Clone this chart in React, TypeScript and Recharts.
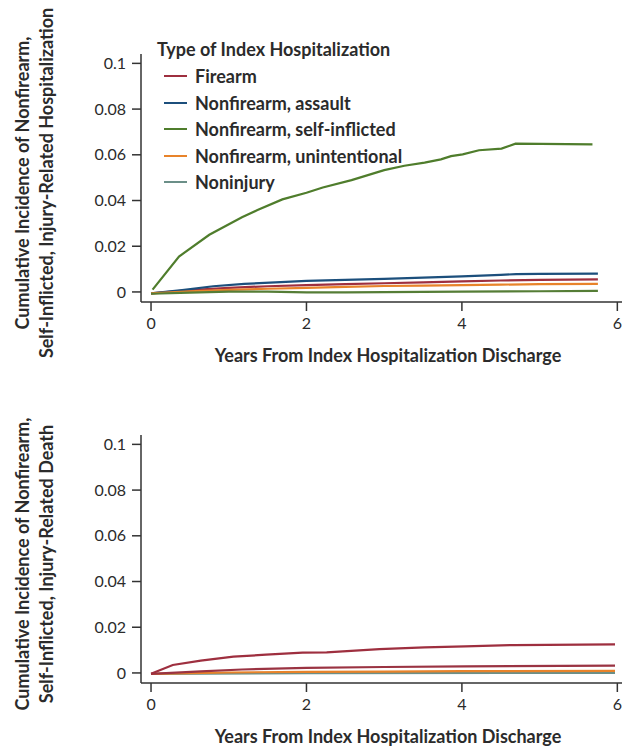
import React from 'react'
import { LineChart, Line, XAxis, YAxis } from 'recharts'

type Pt = { t: number, v: number }

// years from discharge / cumulative incidence
const hospFirearm: Pt[] = [
  { t: 0, v: -0.0006 }, { t: 0.5, v: 0.0008 }, { t: 1, v: 0.0018 }, { t: 1.5, v: 0.0025 },
  { t: 2, v: 0.003 }, { t: 2.5, v: 0.0034 }, { t: 3, v: 0.0038 }, { t: 3.5, v: 0.0042 },
  { t: 4, v: 0.0046 }, { t: 4.5, v: 0.005 }, { t: 5, v: 0.0053 }, { t: 5.75, v: 0.0055 },
]
const hospAssault: Pt[] = [
  { t: 0, v: -0.0006 }, { t: 0.4, v: 0.0008 }, { t: 0.8, v: 0.0025 }, { t: 1.2, v: 0.0035 },
  { t: 1.6, v: 0.0042 }, { t: 2, v: 0.0048 }, { t: 2.5, v: 0.0053 }, { t: 3, v: 0.0057 },
  { t: 3.5, v: 0.0063 }, { t: 4, v: 0.0068 }, { t: 4.5, v: 0.0075 }, { t: 4.7, v: 0.0078 },
  { t: 5, v: 0.0079 }, { t: 5.75, v: 0.008 },
]
const hospSelf: Pt[] = [
  { t: 0.02, v: 0.001 }, { t: 0.36, v: 0.0155 }, { t: 0.75, v: 0.025 }, { t: 1.17, v: 0.0327 },
  { t: 1.37, v: 0.0358 }, { t: 1.69, v: 0.0405 }, { t: 2, v: 0.0434 }, { t: 2.21, v: 0.0457 },
  { t: 2.58, v: 0.0489 }, { t: 3, v: 0.0533 }, { t: 3.26, v: 0.0552 }, { t: 3.52, v: 0.0566 },
  { t: 3.73, v: 0.058 }, { t: 3.86, v: 0.0594 }, { t: 4.01, v: 0.0602 }, { t: 4.22, v: 0.062 },
  { t: 4.51, v: 0.0627 }, { t: 4.69, v: 0.0649 }, { t: 5.68, v: 0.0646 },
]
const hospUnintentional: Pt[] = [
  { t: 0, v: -0.0006 }, { t: 0.5, v: 0.0003 }, { t: 1, v: 0.0009 }, { t: 1.5, v: 0.0014 },
  { t: 2, v: 0.0018 }, { t: 2.5, v: 0.0022 }, { t: 3, v: 0.0026 }, { t: 3.5, v: 0.0028 },
  { t: 4, v: 0.003 }, { t: 4.5, v: 0.0032 }, { t: 5, v: 0.0034 }, { t: 5.75, v: 0.0035 },
]
const hospNoninjury: Pt[] = [
  { t: 0, v: -0.0008 }, { t: 0.5, v: -0.0003 }, { t: 1, v: 0.0001 }, { t: 1.5, v: 0.0001 },
  { t: 2, v: -0.0002 }, { t: 2.5, v: -0.0002 }, { t: 3, v: -0.0001 }, { t: 4, v: 0.0001 },
  { t: 5, v: 0.0003 }, { t: 5.75, v: 0.0005 },
]

const deathFirearm: Pt[] = [
  { t: 0, v: -0.0004 }, { t: 0.28, v: 0.0035 }, { t: 0.64, v: 0.0054 }, { t: 1.06, v: 0.0071 },
  { t: 1.48, v: 0.008 }, { t: 1.95, v: 0.0089 }, { t: 2.26, v: 0.009 }, { t: 2.94, v: 0.0104 },
  { t: 3.52, v: 0.0112 }, { t: 4.04, v: 0.0116 }, { t: 4.67, v: 0.0122 }, { t: 5.97, v: 0.0125 },
]
const deathAssault: Pt[] = [
  { t: 0, v: -0.0004 }, { t: 0.64, v: 0.0007 }, { t: 1.17, v: 0.0015 }, { t: 2, v: 0.0022 },
  { t: 3, v: 0.0026 }, { t: 4.04, v: 0.0029 }, { t: 5.97, v: 0.0032 },
]
const deathUnintentional: Pt[] = [
  { t: 0, v: -0.0004 }, { t: 1, v: 0.0002 }, { t: 2, v: 0.0005 }, { t: 3, v: 0.0006 },
  { t: 4, v: 0.0008 }, { t: 5.97, v: 0.0009 },
]
const deathNoninjury: Pt[] = [
  { t: 0, v: -0.0004 }, { t: 2, v: -0.0001 }, { t: 5.97, v: 0 },
]

const xTicks = [0, 2, 4, 6]
const yTicks = [0, 0.02, 0.04, 0.06, 0.08, 0.1]

const legendTitle = 'Type of Index Hospitalization'
const legendItems = [
  { name: 'Firearm', color: '#9e2f3f' },
  { name: 'Nonfirearm, assault', color: '#1c4f7c' },
  { name: 'Nonfirearm, self-inflicted', color: '#4f7d2c' },
  { name: 'Nonfirearm, unintentional', color: '#e8832a' },
  { name: 'Noninjury', color: '#6b8f88' },
]

const hospSeries = [
  { key: 'firearm', data: hospFirearm, color: '#9e2f3f' },
  { key: 'assault', data: hospAssault, color: '#1c4f7c' },
  { key: 'unintentional', data: hospUnintentional, color: '#e8832a' },
  { key: 'noninjury', data: hospNoninjury, color: '#557d36' },
  { key: 'self', data: hospSelf, color: '#4f7d2c' },
]
const deathSeries = [
  { key: 'noninjury', data: deathNoninjury, color: '#6b8f88' },
  { key: 'unintentional', data: deathUnintentional, color: '#e8832a' },
  { key: 'assault', data: deathAssault, color: '#9a3342' },
  { key: 'firearm', data: deathFirearm, color: '#9e2f3f' },
]

const W = 627
const H = 381
const FONT = 'Lato, sans-serif'
const INK = '#2b2b2b'

const yFmt = (v: number) => String(v)

function LegendBox() {
  return (
    <div style={{ position: 'absolute', left: 157, top: 37, fontFamily: FONT, fontWeight: 700, color: INK }}>
      <div style={{ fontSize: 18, lineHeight: '24px' }}>{legendTitle}</div>
      <div style={{ marginTop: 2 }}>
        {legendItems.map(it => (
          <div key={it.name} style={{ display: 'flex', alignItems: 'center', height: 26.5, fontSize: 18 }}>
            <span style={{ display: 'inline-block', width: 23, height: 2, background: it.color, marginLeft: 7, marginRight: 8 }} />
            {it.name}
          </div>
        ))}
      </div>
    </div>
  )
}

function Panel({ series, line2, legend }: { series: typeof hospSeries, line2: string, legend: boolean }) {
  return (
    <div style={{ position: 'relative', width: W, height: H }}>
      <LineChart width={W} height={H} margin={{ top: 54, right: 5, bottom: 49, left: 81 }}>
        <XAxis
          type="number"
          dataKey="t"
          domain={[-0.129, 6.06]}
          ticks={xTicks}
          allowDuplicatedCategory={false}
          height={30}
          stroke="#333"
          strokeWidth={1.5}
          tickSize={9}
          tickMargin={7}
          tick={{ fill: INK, fontSize: 16, fontFamily: FONT }}
        />
        <YAxis
          type="number"
          domain={[-0.0044, 0.1041]}
          ticks={yTicks}
          width={60}
          stroke="#333"
          strokeWidth={1.5}
          tickSize={9}
          tickMargin={6}
          tickFormatter={yFmt}
          tick={{ fill: INK, fontSize: 16, fontFamily: FONT }}
        />
        {series.map(s => (
          <Line
            key={s.key}
            data={s.data}
            dataKey="v"
            type="linear"
            stroke={s.color}
            strokeWidth={2.2}
            dot={false}
            isAnimationActive={false}
          />
        ))}
      </LineChart>
      {legend && <LegendBox />}
      <svg width={W} height={H} style={{ position: 'absolute', left: 0, top: 0, pointerEvents: 'none' }}>
        <g fontFamily={FONT} fontWeight={700} fontSize={18} fill={INK}>
          <text transform="translate(22,183) rotate(-90)" textAnchor="middle" dominantBaseline="central">
            Cumulative Incidence of Nonfirearm,
          </text>
          <text transform="translate(46,183) rotate(-90)" textAnchor="middle" dominantBaseline="central">
            {line2}
          </text>
          <text x={388} y={355} textAnchor="middle" dominantBaseline="central">
            Years From Index Hospitalization Discharge
          </text>
        </g>
      </svg>
    </div>
  )
}

export default function App() {
  return (
    <div style={{ position: 'absolute', left: 0, top: 0, width: W, height: 749, background: '#fff' }}>
      <Panel series={hospSeries} line2="Self-Inflicted, Injury-Related Hospitalization" legend />
      <Panel series={deathSeries} line2="Self-Inflicted, Injury-Related Death" legend={false} />
    </div>
  )
}
